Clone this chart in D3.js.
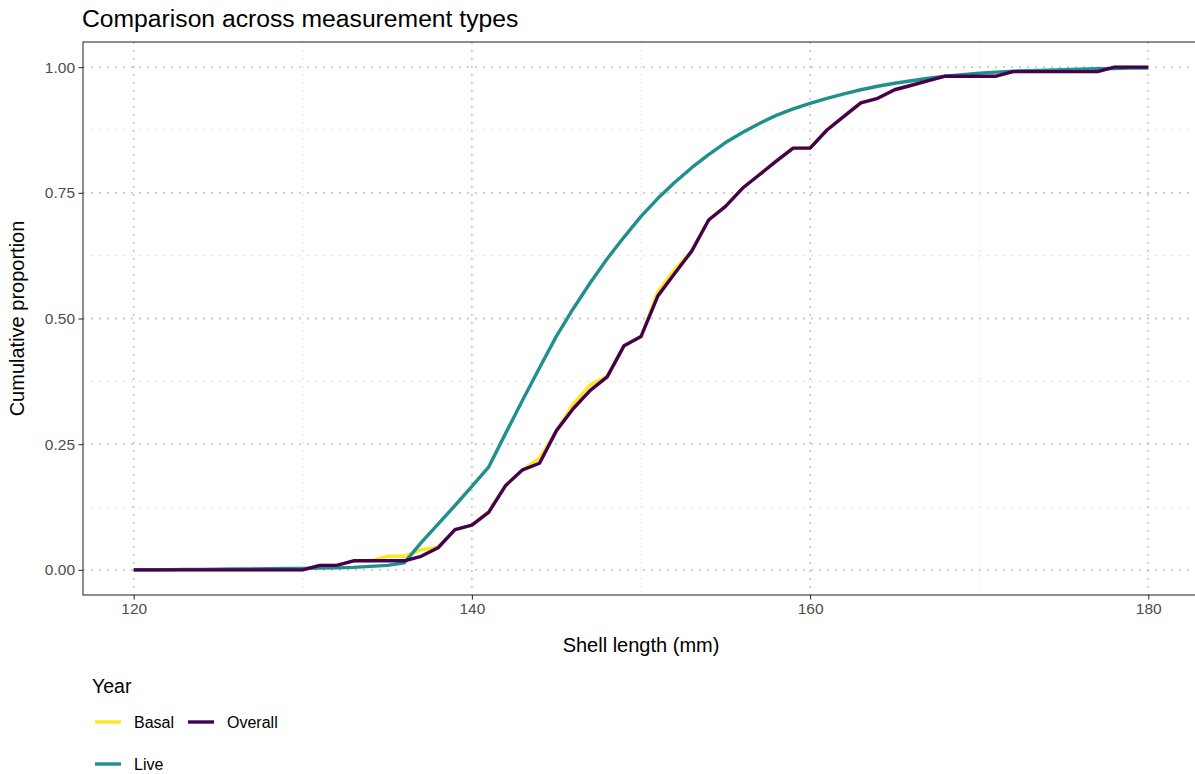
<!DOCTYPE html>
<html>
<head>
<meta charset="utf-8">
<script src="https://cdn.jsdelivr.net/npm/d3@7"></script>
<style>
  html, body { margin: 0; padding: 0; background: #ffffff; }
  svg { display: block; font-family: "Liberation Sans", Arial, Helvetica, sans-serif; }
</style>
</head>
<body>
<svg id="chart" width="1195" height="774"></svg>
<script>
// Shell lengths (mm) at which the cumulative proportions are evaluated
const shellLength = [120,121,122,123,124,125,126,127,128,129,130,131,132,133,134,135,136,137,138,139,140,
  141,142,143,144,145,146,147,148,149,150,151,152,153,154,155,156,157,158,159,160,
  161,162,163,164,165,166,167,168,169,170,171,172,173,174,175,176,177,178,179,180];

// Cumulative proportion per measurement type
const basal = [0,0,0,0,0,0,0,0,0,0,0,0.009,0.009,0.018,0.018,0.027,0.027,0.040,0.045,0.080,0.089,
  0.115,0.168,0.199,0.222,0.277,0.330,0.368,0.385,0.446,0.464,0.553,0.598,0.634,0.696,0.723,0.759,0.786,0.813,0.839,0.839,
  0.875,0.902,0.929,0.938,0.955,0.964,0.973,0.982,0.982,0.982,0.982,0.991,0.991,0.991,0.991,0.991,0.991,1,1,1];

const overall = [0,0,0,0,0,0,0,0,0,0,0,0.009,0.009,0.018,0.018,0.018,0.018,0.027,0.044,0.080,0.089,
  0.115,0.168,0.199,0.212,0.277,0.321,0.357,0.384,0.446,0.464,0.545,0.590,0.634,0.696,0.723,0.759,0.786,0.813,0.839,0.839,
  0.875,0.902,0.929,0.938,0.955,0.964,0.973,0.982,0.982,0.982,0.982,0.991,0.991,0.991,0.991,0.991,0.991,1,1,1];

const live = [0,0,0.0005,0.001,0.001,0.0015,0.002,0.002,0.0025,0.003,0.003,0.0035,0.004,0.005,0.007,0.009,0.014,0.054,0.091,0.128,0.166,
  0.205,0.272,0.338,0.402,0.465,0.520,0.571,0.619,0.662,0.703,0.739,0.771,0.800,0.826,0.850,0.870,0.888,0.904,0.917,0.928,
  0.938,0.947,0.955,0.962,0.968,0.973,0.978,0.982,0.985,0.988,0.990,0.992,0.993,0.994,0.995,0.996,0.997,0.997,0.998,0.998];

const xTicks = [120, 140, 160, 180];
const xMinor = [130, 150, 170];
const yTicks = [0, 0.25, 0.5, 0.75, 1];
const yMinor = [0.125, 0.375, 0.625, 0.875];

const seriesNames = ["Basal", "Overall", "Live"];
const seriesColors = { Basal: "#FDE725", Overall: "#440154", Live: "#21908C" };
const drawOrder = ["Basal", "Live", "Overall"];
const seriesValues = { Basal: basal, Overall: overall, Live: live };

const svg = d3.select("#chart");
const panel = { left: 83, right: 1199, top: 42, bottom: 595 };

const x = d3.scaleLinear().domain([117, 183]).range([panel.left, panel.right]);
const y = d3.scaleLinear().domain([-0.05, 1.05]).range([panel.bottom, panel.top]);

// Grid lines (dotted)
const grid = svg.append("g");
grid.selectAll(".ymin").data(yMinor).enter().append("line")
  .attr("x1", panel.left).attr("x2", panel.right)
  .attr("y1", d => y(d)).attr("y2", d => y(d))
  .attr("stroke", "#dcdcdc").attr("stroke-width", 1.2).attr("stroke-dasharray", "1.5,6.5");
grid.selectAll(".xmin").data(xMinor).enter().append("line")
  .attr("y1", panel.top).attr("y2", panel.bottom)
  .attr("x1", d => x(d)).attr("x2", d => x(d))
  .attr("stroke", "#dcdcdc").attr("stroke-width", 1.2).attr("stroke-dasharray", "1.5,6.5");
grid.selectAll(".ymaj").data(yTicks).enter().append("line")
  .attr("x1", panel.left).attr("x2", panel.right)
  .attr("y1", d => y(d)).attr("y2", d => y(d))
  .attr("stroke", "#c4c4c4").attr("stroke-width", 1.8).attr("stroke-dasharray", "1.8,6.2");
grid.selectAll(".xmaj").data(xTicks).enter().append("line")
  .attr("y1", panel.top).attr("y2", panel.bottom)
  .attr("x1", d => x(d)).attr("x2", d => x(d))
  .attr("stroke", "#c4c4c4").attr("stroke-width", 1.8).attr("stroke-dasharray", "1.8,6.2");

// Cumulative curves
const line = d3.line()
  .x((d, i) => x(shellLength[i]))
  .y(d => y(d));

svg.append("g").selectAll("path").data(drawOrder).enter().append("path")
  .attr("d", name => line(seriesValues[name]))
  .attr("fill", "none")
  .attr("stroke", name => seriesColors[name])
  .attr("stroke-width", 3.4)
  .attr("stroke-linejoin", "round");

// Panel border
svg.append("rect")
  .attr("x", panel.left).attr("y", panel.top)
  .attr("width", panel.right - panel.left).attr("height", panel.bottom - panel.top)
  .attr("fill", "none").attr("stroke", "#333333").attr("stroke-width", 1.1);

// Axes
const xAxis = d3.axisBottom(x).tickValues(xTicks).tickFormat(d3.format("d")).tickSize(4.5).tickPadding(3.5);
const yAxis = d3.axisLeft(y).tickValues(yTicks).tickFormat(d3.format(".2f")).tickSize(4.5).tickPadding(3.5);

const gx = svg.append("g").attr("transform", `translate(0,${panel.bottom})`).call(xAxis);
const gy = svg.append("g").attr("transform", `translate(${panel.left},0)`).call(yAxis);
[gx, gy].forEach(g => {
  g.select(".domain").remove();
  g.selectAll(".tick line").attr("stroke", "#333333").attr("stroke-width", 1.1);
  g.selectAll(".tick text").attr("fill", "#4d4d4d").style("font-size", "15.5px")
    .style("font-family", "'Liberation Sans', Arial, sans-serif");
});

// Titles
svg.append("text")
  .attr("x", 82).attr("y", 27)
  .attr("fill", "#000").style("font-size", "24.7px")
  .text("Comparison across measurement types");

svg.append("text")
  .attr("x", (panel.left + panel.right) / 2).attr("y", 652)
  .attr("text-anchor", "middle").attr("fill", "#000").style("font-size", "20px")
  .text("Shell length (mm)");

svg.append("text")
  .attr("transform", `translate(24,${(panel.top + panel.bottom) / 2}) rotate(-90)`)
  .attr("text-anchor", "middle").attr("fill", "#000").style("font-size", "20px")
  .text("Cumulative proportion");

// Legend
const legend = svg.append("g");
legend.append("text").attr("x", 92).attr("y", 693)
  .attr("fill", "#000").style("font-size", "19.5px").text("Year");

const legendPos = {
  Basal: { kx: 95, ty: 722 },
  Overall: { kx: 188, ty: 722 },
  Live: { kx: 95, ty: 764 }
};
seriesNames.forEach(name => {
  const p = legendPos[name];
  legend.append("line")
    .attr("x1", p.kx).attr("x2", p.kx + 26)
    .attr("y1", p.ty).attr("y2", p.ty)
    .attr("stroke", seriesColors[name]).attr("stroke-width", 3.4);
  legend.append("text")
    .attr("x", p.kx + 39).attr("y", p.ty).attr("dy", "0.35em")
    .attr("fill", "#000").style("font-size", "16px").text(name);
});
</script>
</body>
</html>
